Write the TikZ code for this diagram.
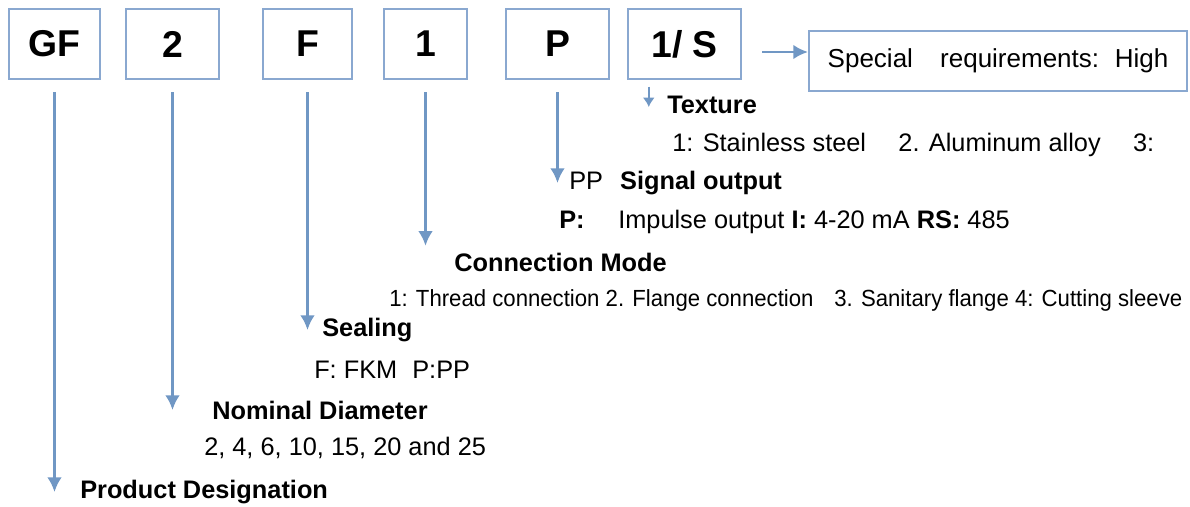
\documentclass[tikz,border=0pt]{standalone}
\usepackage{fontspec}
\setmainfont{Liberation Sans}
\newfontfamily\narrowfont[FakeStretch=0.95]{Liberation Sans}
\usetikzlibrary{arrows.meta}
\definecolor{codeblue}{HTML}{7097C4}
\definecolor{boxblue}{HTML}{8AA8D0}

\begin{document}
\begin{tikzpicture}[x=0.75pt,y=-0.75pt,
    code/.style={draw=boxblue,line width=1.6pt,minimum height=52.5pt,inner sep=0pt,
      font=\fontsize{28}{32}\selectfont\bfseries},
    lbl/.style={anchor=west,inner sep=0pt,font=\fontsize{19}{22}\selectfont\bfseries},
    val/.style={anchor=west,inner sep=0pt,font=\fontsize{19}{22}\selectfont},
    arr/.style={draw=codeblue,line width=1.9pt,-{Latex[length=11pt,width=11pt]}}]
    \useasboundingbox (0,0) rectangle (1190,507);
    \node[code,minimum width=68pt] (gf) at (54.5,44) {GF};
    \node[code,minimum width=70pt] (n2) at (172.5,44) {2};
    \node[code,minimum width=67pt] (nF) at (307.5,44) {F};
    \node[code,minimum width=62pt] (n1) at (425.5,44) {1};
    \node[code,minimum width=77pt] (nP) at (557.5,44) {P};
    \node[code,minimum width=85pt] (nS) at (684.5,44) {1/ S};
    \node[draw=boxblue,line width=1.6pt,minimum width=283.5pt,minimum height=45pt,inner sep=0pt,
      font=\fontsize{19.5}{22}\selectfont] (spec) at (998,61)
      {Special\hspace{15pt} requirements:\hspace{4.5pt} High};
    \node[lbl] (prod) at (80,492) {Product Designation};
    \node[lbl] (nom) at (212,410) {Nominal Diameter};
    \node[val] (diam) at (204,448) {2, 4, 6, 10, 15, 20 and 25};
    \node[lbl] (seal) at (322,330) {Sealing};
    \node[val] (sealv) at (314,370) {F: FKM\hspace{6pt} P:PP};
    \node[lbl] (conn) at (454,262) {Connection Mode};
    \node[val,font=\fontsize{17.5}{20}\narrowfont] (connv) at (389,300)
      {1: Thread connection 2. Flange connection\hspace{11pt} 3. Sanitary flange 4: Cutting sleeve};
    \node[val] (sig) at (569,183) {PP\hspace{7.5pt} \textbf{Signal output}};
    \node[val] (sigv) at (559,222) {\textbf{P:}\hspace{20pt} Impulse output \textbf{I:} 4-20 mA \textbf{RS:} 485};
    \node[lbl] (tex) at (667,105) {Texture};
    \node[val] (texv) at (672,145) {1: Stainless steel\hspace{19pt} 2. Aluminum alloy\hspace{19pt} 3:};
    \coordinate (sa) at ([xshift=15pt,yshift=-6pt]nS.east);
    \coordinate (ta) at ([xshift=16.5pt,yshift=-5pt]nS.south west);
    \draw[arr] ([yshift=-9pt]gf.south) -- (gf.south |- prod.west);
    \draw[arr] ([yshift=-9pt]n2.south) -- (n2.south |- nom.west);
    \draw[arr] ([yshift=-9pt]nF.south) -- (nF.south |- seal.west);
    \draw[arr,shorten >=5pt] ([yshift=-9pt]n1.south) -- (n1.south |- conn.north);
    \draw[arr] ([yshift=-9pt]nP.south) -- (nP.south |- sig.west);
    \draw[arr,-{Latex[length=7pt,width=9pt]}] (ta) -- ([yshift=-1.5pt]ta |- tex.west);
    \draw[arr] (sa) -- (sa -| spec.west);
  \end{tikzpicture}
\end{document}
